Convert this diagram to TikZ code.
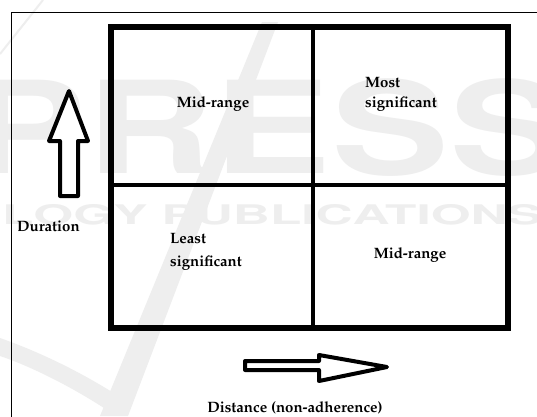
\documentclass[tikz,border=0pt]{standalone}
\usepackage[T1]{fontenc}
\usepackage{mathpazo}
\usetikzlibrary{calc}
\definecolor{markgray}{HTML}{EEEEEE}
\tikzset{
  frameline/.style={line width=1pt, black},
  gridline/.style={line width=6pt, black},
  innerline/.style={line width=4.5pt, black},
  blockarrow/.style={line width=4pt, black, line join=round, fill=white},
  label/.style={font=\fontsize{15}{20}\selectfont\bfseries, inner sep=0pt},
  watermark/.style={text=markgray, inner sep=0pt}
}
\begin{document}
\begin{tikzpicture}[x=1pt,y=-1pt]
  \useasboundingbox (0,0) rectangle (537,416);
  \fill[white] (0,0) rectangle (537,416);

  % faint publisher watermark behind the figure
  \fill[markgray] (262,22) -- (278,22) -- (128,416) -- (100,416) -- cycle;
  \fill[markgray] (0,338) .. controls (40,352) and (80,372) .. (112,392)
                  -- (104,408) .. controls (70,386) and (30,366) .. (0,356) -- cycle;
  \draw[markgray, line width=2pt] (43,0) -- (0,54);
  \node[watermark, font=\fontfamily{phv}\bfseries\fontsize{128}{128}\selectfont, xscale=1.38]
       (wmA) at (268,128) {PRESS};
  \node[watermark, font=\fontfamily{phv}\bfseries\fontsize{27}{27}\selectfont, xscale=1.9]
       (wmB) at (272,215) {LOGY PUBLICATIONS};

  % outer page frame
  \draw[frameline] (11.5,430) -- (11.5,12.5) -- (560,12.5);

  % 2x2 matrix
  \coordinate (tl) at (111,26.5);
  \coordinate (br) at (508,328);
  \draw[innerline] (313,26.5) -- (313,328);
  \draw[innerline] (111,185) -- (508,185);
  \draw[gridline] (tl) rectangle (br);

  % quadrant labels
  \node[label] (midA) at (213,104) {Mid-range};
  \node[label, anchor=west, align=left] (most) at (365,94) {Most\\significant};
  \node[label, anchor=west, align=left] (least) at (170,252) {Least\\[3pt]significant};
  \node[label] (midB) at (410,255) {Mid-range};

  % axis arrows
  \draw[blockarrow] (69,91) -- (88,141) -- (78,141) -- (78,196) -- (60,196)
                    -- (60,141) -- (49,141) -- cycle;
  \draw[blockarrow] (387,367) -- (319,381) -- (319,370) -- (245,370) -- (245,361)
                    -- (319,361) -- (319,355) -- cycle;

  % axis names
  \node[label, anchor=west] (dur) at (17,226) {Duration};
  \node[label] (dist) at (295,408) {Distance (non-adherence)};
\end{tikzpicture}
\end{document}
